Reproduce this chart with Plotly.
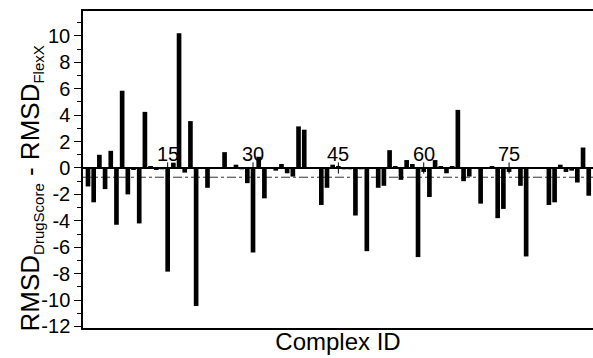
import plotly.graph_objects as go

complex_ids = list(range(1, 90))
rmsd_diff = [
    -1.4, -2.6, 1.0, -1.6, 1.3, -4.3, 5.85, -2.0, -0.15, -4.2,
    4.25, 0.1, -0.15, -0.1, -7.85, 0.4, 10.2, -0.35, 3.55, -10.45,
    0.0, -1.5, 0.0, 0.0, 1.2, 0.0, 0.25, -0.1, -1.15, -6.4,
    0.85, -2.3, 0.0, -0.2, 0.3, -0.4, -0.65, 3.15, 2.9, 0.0,
    0.0, -2.8, -1.5, 0.25, 0.1, -0.1, -0.1, -3.6, -0.1, -6.3,
    0.0, -1.5, -1.35, 1.35, 0.1, -0.9, 0.6, 0.3, -6.75, -0.3,
    -2.2, 0.6, 0.1, -0.4, 0.1, 4.4, -1.0, -0.65, 0.0, -2.7,
    0.0, 0.1, -3.8, -3.1, -0.3, 0.0, -1.35, -6.7, 0.0, 0.0,
    0.0, -2.8, -2.6, 0.25, -0.3, -0.2, -1.1, 1.55, -2.1,
]
mean_diff = -0.7
x_tick_vals = [15, 30, 45, 60, 75]
x_tick_text = ["15", "30", "45", "60", "75"]
y_tick_vals = [-12, -10, -8, -6, -4, -2, 0, 2, 4, 6, 8, 10]
y_tick_text = ["-12", "-10", "-8", "-6", "-4", "-2", "0", "2", "4", "6", "8", "10"]

FONT = "Liberation Sans, Arial, sans-serif"

fig = go.Figure()
fig.add_trace(go.Bar(
    x=complex_ids, y=rmsd_diff,
    marker=dict(color="black", line=dict(width=0)),
    showlegend=False,
))
# small tick marks on the zero line at labelled complex IDs
fig.add_trace(go.Scatter(
    x=x_tick_vals, y=[0] * len(x_tick_vals), mode="markers",
    marker=dict(symbol="line-ns", size=8, line=dict(color="black", width=1)),
    showlegend=False, hoverinfo="skip",
))

# mean line (dash-dot)
fig.add_shape(type="line", xref="paper", x0=0, x1=1, yref="y",
              y0=mean_diff, y1=mean_diff,
              line=dict(color="#333333", width=1, dash="dashdot"), layer="below")

for v, t in zip(x_tick_vals, x_tick_text):
    fig.add_annotation(x=v, y=0, xref="x", yref="y", text=t, showarrow=False,
                       xanchor="center", yanchor="bottom", yshift=1,
                       font=dict(family=FONT, size=20, color="black"))

fig.add_annotation(
    xref="paper", yref="paper", x=0, y=0.5, xanchor="center", yanchor="middle",
    xshift=-53, yshift=-19, textangle=-90, showarrow=False,
    text='RMSD<sub><span style="font-size:15px">DrugScore</span></sub> - RMSD<sub><span style="font-size:15px">FlexX</span></sub>',
    font=dict(family=FONT, size=26, color="black"),
)

fig.update_layout(
    width=593, height=358,
    margin=dict(l=83, r=0, t=11, b=30),
    paper_bgcolor="white", plot_bgcolor="white",
    bargap=0.18,
    font=dict(family=FONT, color="black"),
    xaxis=dict(
        range=[0.12, 89.75], showticklabels=False, ticks="",
        showgrid=False, zeroline=False,
        showline=True, linecolor="black", linewidth=1.5, mirror=True,
        title=dict(text="Complex ID", font=dict(family=FONT, size=24), standoff=4),
    ),
    yaxis=dict(
        range=[-12.12, 11.89], tickvals=y_tick_vals, ticktext=y_tick_text,
        ticks="outside", ticklen=7, tickwidth=1, tickcolor="black",
        minor=dict(dtick=1, ticks="outside", ticklen=4, tickcolor="black"),
        tickfont=dict(family=FONT, size=20, color="black"),
        showgrid=False,
        zeroline=True, zerolinecolor="black", zerolinewidth=2,
        showline=True, linecolor="black", linewidth=1.5,
    ),
)

fig.write_html(
    "out.html",
    config={"displayModeBar": False},
    post_script="document.body.style.margin='0px';document.body.style.overflow='hidden';",
)
